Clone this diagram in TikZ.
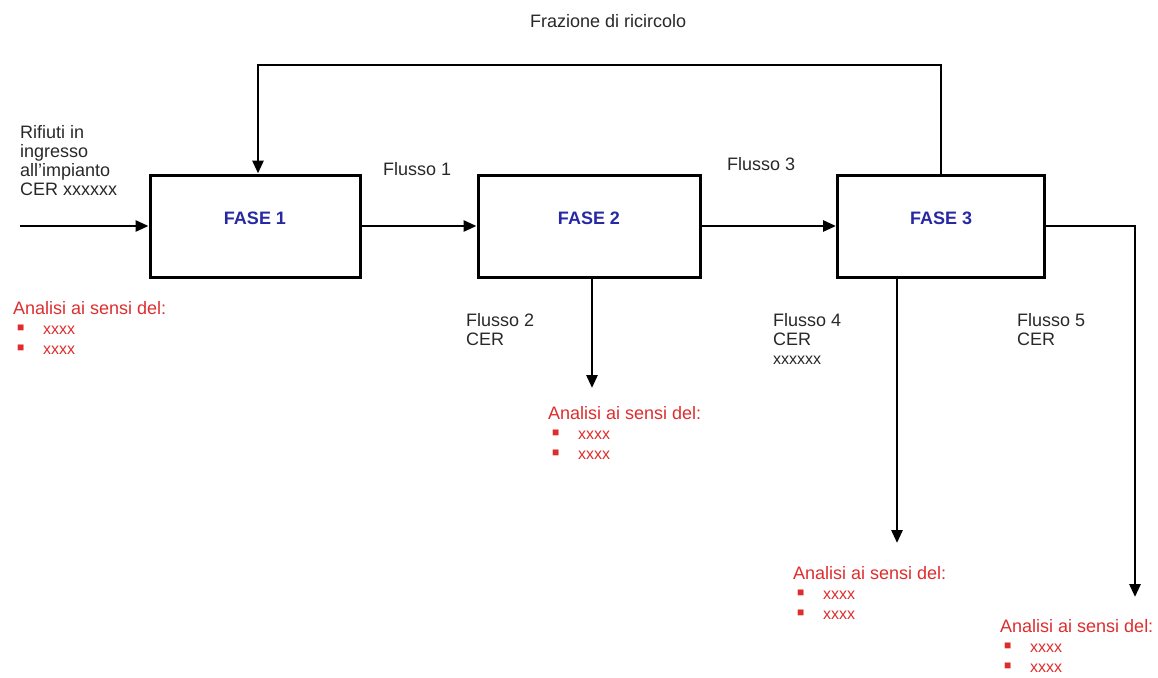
\documentclass[tikz,border=0pt]{standalone}
\usepackage{fontspec}
\setmainfont{Liberation Sans}
\usetikzlibrary{arrows.meta}

\definecolor{testo}{RGB}{40,40,40}
\definecolor{rosso}{RGB}{222,45,45}
\definecolor{blu}{RGB}{40,40,165}

\tikzset{
    fasebox/.style={draw, line width=3pt, minimum width=#1, minimum height=102pt, inner sep=0pt},
    fasetext/.style={text=blu, font=\fontsize{18}{20}\selectfont\bfseries},
    flow/.style={line width=2.8pt, -{Triangle[length=13pt,width=11pt]}},
    lab/.style={anchor=north west, inner sep=0pt, align=left, text=testo, font=\fontsize{18}{19}\selectfont},
    analisi/.style={anchor=north west, inner sep=0pt, align=left, text=rosso, font=\fontsize{18}{20}\selectfont},
}
\newcommand{\voce}{\hspace*{4pt}\makebox[26pt][l]{\fontsize{12}{12}\selectfont\raisebox{3pt}{■}}{\fontsize{16}{20}\selectfont xxxx}}
\newcommand{\blocco}{Analisi ai sensi del:\\\voce\\\voce}

\begin{document}
\begin{tikzpicture}[x=1pt, y=-1pt]
    \useasboundingbox (0, 0) rectangle (1158, 677);

    % le tre fasi
    \node[fasebox=210pt] (f1) at (255, 226) {};
    \node[fasebox=222pt] (f2) at (589, 226) {};
    \node[fasebox=207pt] (f3) at (941, 226) {};
    \node[fasetext] (t1) at (255, 218) {FASE 1};
    \node[fasetext] (t2) at (589, 218) {FASE 2};
    \node[fasetext] (t3) at (941, 218) {FASE 3};

    \coordinate (in) at (20, 226);
    \coordinate (rc) at (600, 65);
    \coordinate (out2) at (592, 388);
    \coordinate (out4) at (897, 543);
    \coordinate (out5) at (1135, 597);

    \draw[flow] (in) -- (f1.west);
    \draw[flow] (f1.east) -- (f2.west);
    \draw[flow] (f2.east) -- (f3.west);
    \draw[flow] (f3.north) |- (rc) -| ([xshift=3pt]f1.north);
    \draw[flow] (out2 |- f2.south) -- (out2);
    \draw[flow] (out4 |- f3.south) -- (out4);
    \draw[flow] (f3.east) -| (out5);

    % etichette
    \node[lab] (ric) at (530, 14) {Frazione di ricircolo};
    \node[lab] (rif) at (20, 125) {Rifiuti in\\ingresso\\all'impianto\\CER xxxxxx};
    \node[lab] (fl1) at (383, 162) {Flusso 1};
    \node[lab] (fl3) at (727, 157) {Flusso 3};
    \node[lab] (fl2) at (466, 313) {Flusso 2\\CER};
    \node[lab] (fl4) at (773, 313) {Flusso 4\\CER\\{\fontsize{16}{19}\selectfont xxxxxx}};
    \node[lab] (fl5) at (1017, 313) {Flusso 5\\CER};

    \node[analisi] (a1) at (13, 301) {\blocco};
    \node[analisi] (a2) at (548, 406) {\blocco};
    \node[analisi] (a3) at (793, 566) {\blocco};
    \node[analisi] (a5) at (1000, 619) {\blocco};
\end{tikzpicture}
\end{document}
